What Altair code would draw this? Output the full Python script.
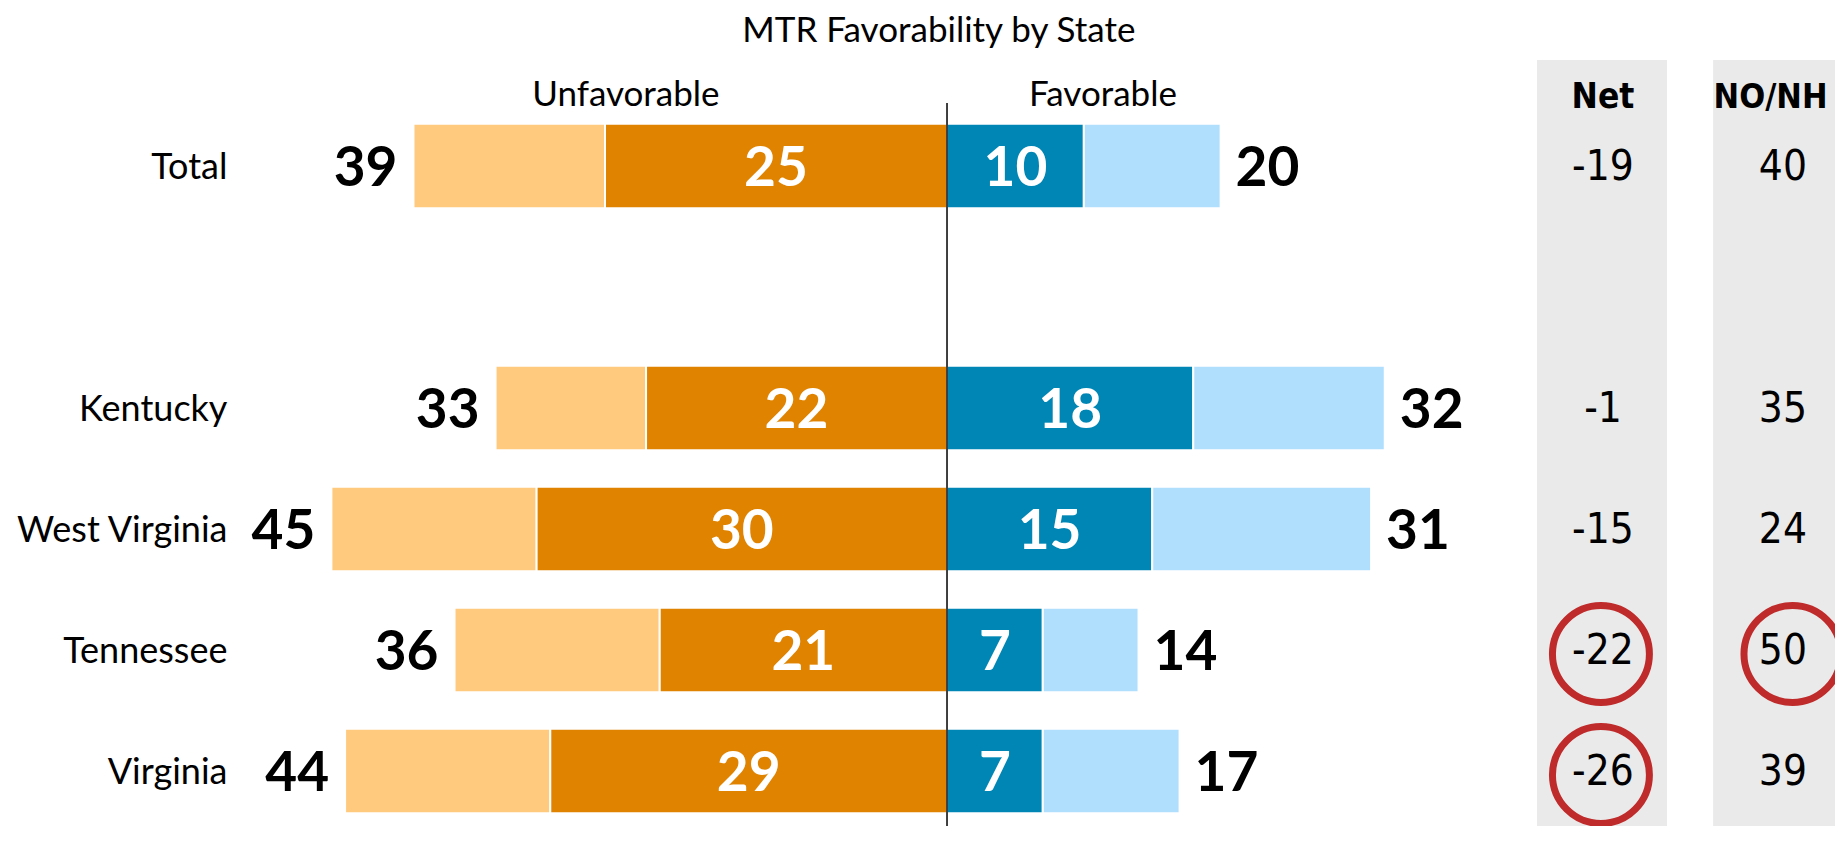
import altair as alt
import pandas as pd

# ---- data ----
states = ["Total", "Kentucky", "West Virginia", "Tennessee", "Virginia"]
unfav_total = [39, 33, 45, 36, 44]
unfav_strong = [25, 22, 30, 21, 29]
fav_total = [20, 32, 31, 14, 17]
fav_strong = [10, 18, 15, 7, 7]
net = [-19, -1, -15, -22, -26]
no_nh = [40, 35, 24, 50, 39]
circled_net = ["Tennessee", "Virginia"]
circled_nonh = ["Tennessee"]

row_order = ["Total", " ", "Kentucky", "West Virginia", "Tennessee", "Virginia"]
seg_names = ["Somewhat unfavorable", "Very unfavorable", "Very favorable", "Somewhat favorable"]
seg_colors = ["#FFC97E", "#DF8300", "#0086B4", "#B0DFFD"]

rows = []
for s, ut, us, ft, fs in zip(states, unfav_total, unfav_strong, fav_total, fav_strong):
    rows.append(dict(state=s, seg=seg_names[0], x0=-ut, x1=-us))
    rows.append(dict(state=s, seg=seg_names[1], x0=-us, x1=0))
    rows.append(dict(state=s, seg=seg_names[2], x0=0, x1=fs))
    rows.append(dict(state=s, seg=seg_names[3], x0=fs, x1=ft))
segs = pd.DataFrame(rows)

df = pd.DataFrame(dict(state=states, ut=unfav_total, us=unfav_strong,
                       ft=fav_total, fs=fav_strong, net=net, nonh=no_nh))
df["ut_neg"] = -df["ut"]
df["us_mid"] = -df["us"] / 2
df["fs_mid"] = df["fs"] / 2
df["net_s"] = [str(v) for v in net]      # plain hyphen, as in the original
df["nonh_s"] = [str(v) for v in no_nh]

# ---- layout constants ----
W, H = 1827, 818
xs = alt.Scale(domain=[-68.64, 64.91], nice=False, zero=False)
ys = alt.Scale(domain=row_order, range=[97.5, 823.5], paddingInner=0.3, paddingOuter=0.15)
LABEL_X = -52.6
NET_X = 47.95
NONH_X = 61.1
NET_PANEL = (43.13, 52.63)
NONH_PANEL = (56.0, 64.91)
FONT = "Lato"
NUMFONT = "DejaVu Sans Condensed"
one = pd.DataFrame({"k": [0]})


def X(field):
    return alt.X(field, scale=xs, axis=None)


def XD(v):
    return alt.XDatum(v, type="quantitative", scale=xs, axis=None)


Y = alt.Y("state:N", scale=ys, axis=None)

panels = [
    alt.Chart(one).mark_rect(color="#EAEAEA").encode(
        x=XD(p[0]), x2=alt.datum(p[1]), y=alt.value(52), y2=alt.value(H))
    for p in (NET_PANEL, NONH_PANEL)
]

bars = alt.Chart(segs).mark_bar(stroke="white", strokeWidth=2).encode(
    x=X("x0:Q"), x2="x1:Q", y=Y,
    color=alt.Color("seg:N", scale=alt.Scale(domain=seg_names, range=seg_colors), legend=None),
)

rule = alt.Chart(one).mark_rule(color="black", strokeWidth=1.5).encode(
    x=XD(0), y=alt.value(95), y2=alt.value(H))

bold = dict(font=FONT, fontWeight="bold", fontSize=55, baseline="middle", dy=3)

left_lbl = alt.Chart(df).mark_text(align="right", dx=-16, color="black", **bold).encode(
    x=X("ut_neg:Q"), y=Y, text="ut:Q")
right_lbl = alt.Chart(df).mark_text(align="left", dx=15, color="black", **bold).encode(
    x=X("ft:Q"), y=Y, text="ft:Q")
in_unfav = alt.Chart(df).mark_text(align="center", color="white", **bold).encode(
    x=X("us_mid:Q"), y=Y, text="us:Q")
in_fav = alt.Chart(df).mark_text(align="center", color="white", **bold).encode(
    x=X("fs_mid:Q"), y=Y, text="fs:Q")

state_lbl = alt.Chart(df).mark_text(align="right", baseline="middle", dy=2, font=FONT,
                                    fontSize=36, color="black").encode(
    x=XD(LABEL_X), y=Y, text="state:N")

net_txt = alt.Chart(df).mark_text(align="center", baseline="middle", dy=1, font=NUMFONT,
                                  fontSize=42, color="black").encode(
    x=XD(NET_X), y=Y, text="net_s:N")
nonh_txt = alt.Chart(df).mark_text(align="center", baseline="middle", dy=1, font=NUMFONT,
                                   fontSize=42, color="black").encode(
    x=XD(NONH_X), y=Y, text="nonh_s:N")

circ_style = dict(shape="circle", size=9400, filled=False, stroke="#BF2A2A",
                  strokeWidth=7, opacity=1, yOffset=4)
net_circ = alt.Chart(df).transform_filter(
    alt.FieldOneOfPredicate(field="state", oneOf=circled_net)
).mark_point(**circ_style).encode(x=XD(47.8), y=Y)
nonh_circ = alt.Chart(df).transform_filter(
    alt.FieldOneOfPredicate(field="state", oneOf=circled_nonh)
).mark_point(**circ_style).encode(x=XD(61.8), y=Y)


def header(txt, xv, yv, size, weight="normal", font=FONT):
    return alt.Chart(one).mark_text(text=txt, align="center", baseline="alphabetic",
                                    font=font, fontSize=size, fontWeight=weight,
                                    color="black").encode(x=XD(xv), y=alt.value(yv))


title = header("MTR Favorability by State", -0.6, 34, 35)
h_unfav = header("Unfavorable", -23.47, 98, 35)
h_fav = header("Favorable", 11.4, 98, 35)
h_net = header("Net", NET_X, 100, 35, "bold", NUMFONT)
h_nonh = header("NO/NH", 60.2, 100, 34, "bold", NUMFONT)

chart = alt.layer(
    *panels, bars, rule, left_lbl, right_lbl, in_unfav, in_fav, state_lbl,
    net_txt, nonh_txt, net_circ, nonh_circ, title, h_unfav, h_fav, h_net, h_nonh
).properties(
    width=W, height=H, autosize=alt.AutoSizeParams(type="none"), padding=0
).configure_view(stroke=None)

chart.save("out.html", embed_options={"renderer": "svg", "actions": False})
